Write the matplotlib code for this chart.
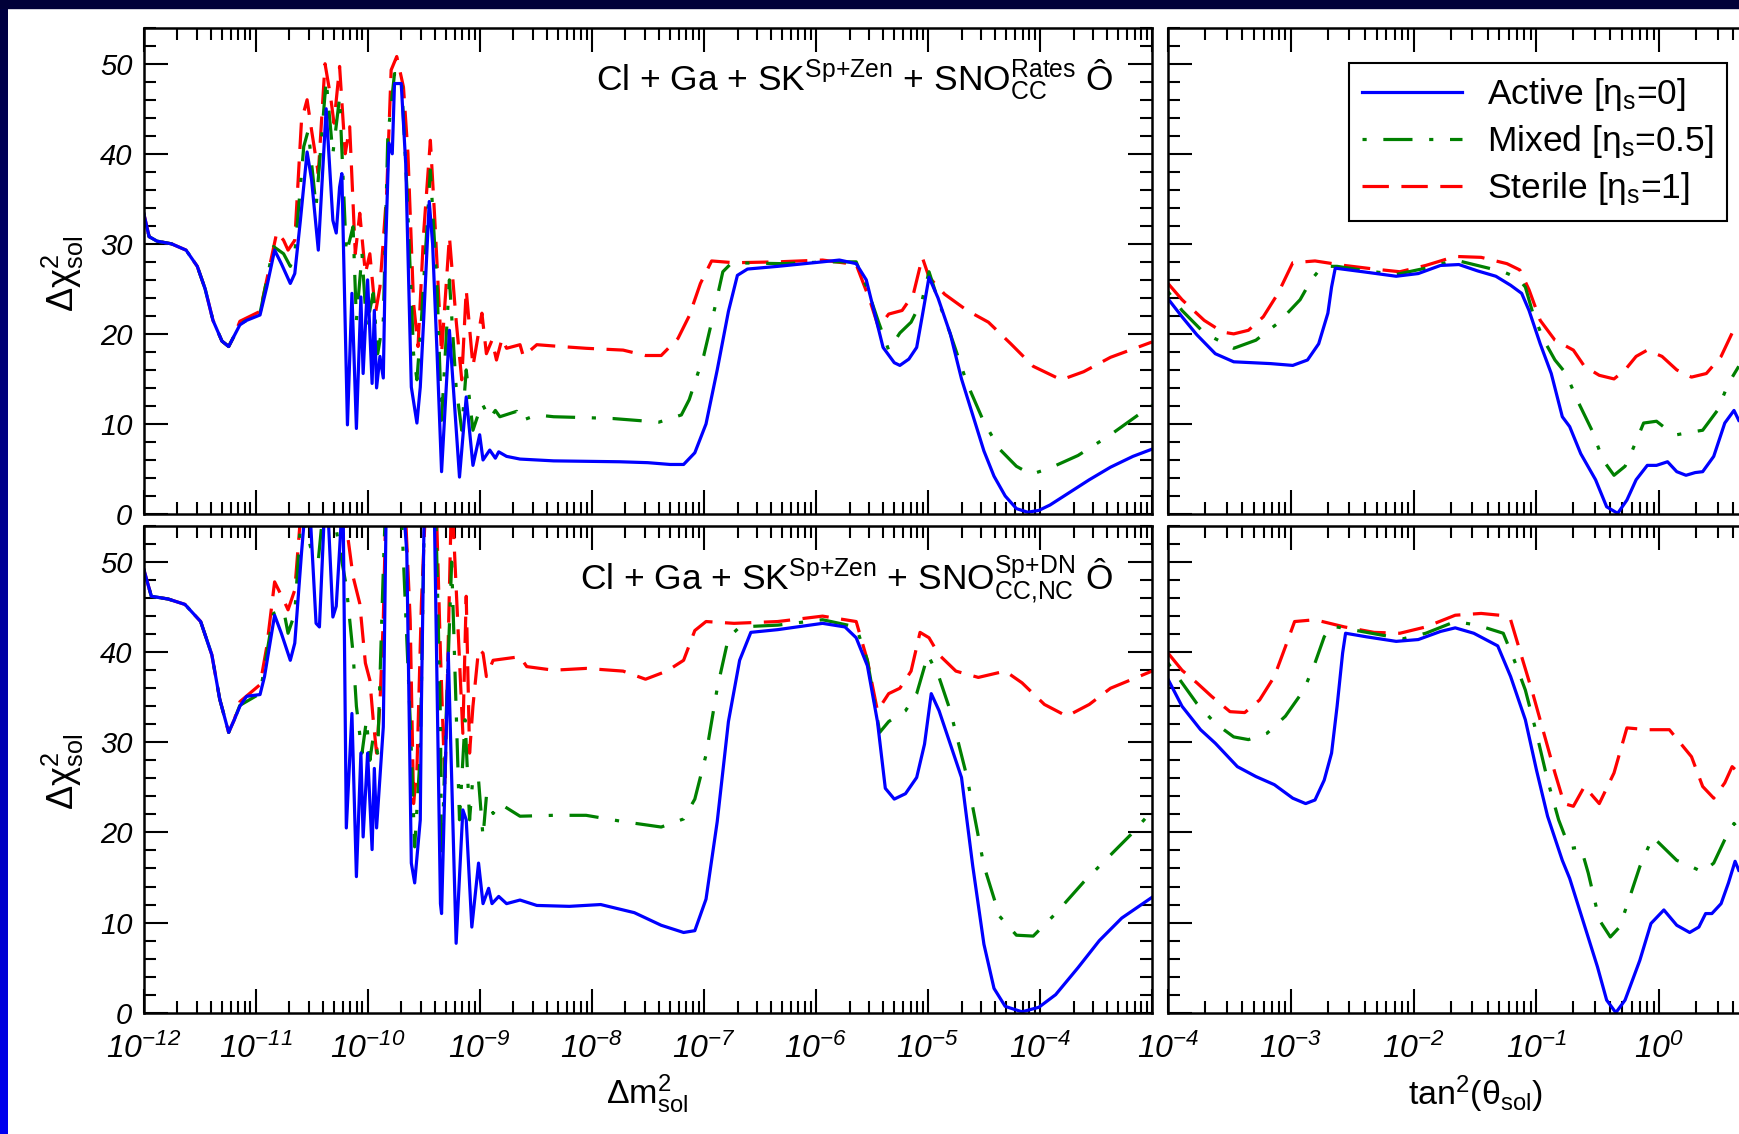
import numpy as np
import matplotlib.pyplot as plt
from matplotlib.colors import LinearSegmentedColormap
from matplotlib.patches import Rectangle

plt.rcParams['font.family'] = ['Liberation Sans', 'DejaVu Sans']
plt.rcParams['mathtext.fontset'] = 'custom'
plt.rcParams['mathtext.rm'] = 'Liberation Sans'
plt.rcParams['mathtext.it'] = 'Liberation Sans:italic'
plt.rcParams['mathtext.sf'] = 'Liberation Sans:italic'
plt.rcParams['mathtext.default'] = 'regular'
plt.rcParams['lines.scale_dashes'] = False

# ---- data: x values are log10 of the axis quantity ----
# top row: Cl + Ga + SK + SNO rates, vs dm2
top_dm_active_x = [-12.00, -11.95, -11.88, -11.75, -11.62, -11.52, -11.45, -11.38, -11.30, -11.24, -11.19, -11.14,
                   -11.08, -10.96, -10.90, -10.83, -10.77, -10.69, -10.65, -10.60, -10.54, -10.50, -10.44, -10.37,
                   -10.31, -10.28, -10.25, -10.23, -10.18, -10.14, -10.10, -10.06, -10.04, -10.00, -9.96, -9.94,
                   -9.92, -9.89, -9.86, -9.84, -9.81, -9.78, -9.76, -9.70, -9.66, -9.61, -9.56, -9.53, -9.50, -9.45,
                   -9.42, -9.38, -9.34, -9.27, -9.18, -9.12, -9.06, -9.00, -8.97, -8.91, -8.86, -8.83, -8.76, -8.64,
                   -8.34, -7.75, -7.50, -7.30, -7.18, -7.08, -6.98, -6.88, -6.78, -6.70, -6.61, -6.34, -5.94, -5.79,
                   -5.64, -5.55, -5.47, -5.40, -5.30, -5.25, -5.17, -5.10, -5.05, -4.99, -4.91, -4.80, -4.70, -4.60,
                   -4.50, -4.41, -4.31, -4.21, -4.11, -4.01, -3.91, -3.76, -3.56, -3.37, -3.17, -3.00]
top_dm_active_y = [33.5, 30.8, 30.3, 30.0, 29.3, 27.5, 25.0, 21.5, 19.2, 18.6, 19.8, 21.0,
                   21.5, 22.1, 25.2, 29.3, 27.8, 25.6, 26.7, 32.6, 40.2, 37.1, 29.3, 45.0,
                   32.6, 31.2, 36.3, 37.8, 9.9, 24.5, 9.5, 24.1, 15.6, 26.0, 14.5, 22.6,
                   14.0, 17.5, 15.1, 29.3, 41.2, 40.0, 47.8, 47.8, 38.9, 14.1, 10.1, 14.1, 21.5, 34.7,
                   30.0, 17.8, 4.7, 20.4, 4.1, 13.0, 5.4, 8.8, 6.0, 7.1, 6.2, 6.9, 6.4, 6.1,
                   5.9, 5.8, 5.7, 5.5, 5.5, 6.8, 10.0, 16.0, 22.5, 26.5, 27.2, 27.5, 28.0, 28.2,
                   27.8, 26.0, 22.0, 18.5, 16.8, 16.5, 17.2, 18.5, 22.0, 26.3, 24.0, 20.0, 15.0, 11.0,
                   7.0, 4.2, 2.0, 0.6, 0.2, 0.4, 1.0, 2.2, 3.8, 5.2, 6.4, 7.2]
top_dm_mixed_x = [-12.00, -11.95, -11.88, -11.75, -11.62, -11.52, -11.45, -11.38, -11.30, -11.24, -11.19, -11.14,
                  -10.96, -10.84, -10.75, -10.69, -10.65, -10.57, -10.53, -10.46, -10.37, -10.31, -10.25, -10.19,
                  -10.13, -10.10, -10.05, -10.01, -9.95, -9.91, -9.86, -9.82, -9.76, -9.70, -9.65, -9.59, -9.56,
                  -9.52, -9.44, -9.38, -9.34, -9.27, -9.21, -9.16, -9.12, -9.06, -8.98, -8.91, -8.86, -8.82, -8.67,
                  -8.64, -8.49, -8.34, -8.05, -7.81, -7.40, -7.20, -7.13, -7.00, -6.93, -6.83, -6.75, -6.30, -5.90,
                  -5.64, -5.54, -5.44, -5.35, -5.25, -5.15, -5.05, -4.99, -4.91, -4.80, -4.65, -4.50, -4.36, -4.21,
                  -4.08, -3.91, -3.66, -3.37, -3.00]
top_dm_mixed_y = [33.5, 30.8, 30.3, 30.0, 29.3, 27.5, 25.0, 21.5, 19.2, 18.6, 19.8, 21.1,
                  22.3, 29.7, 28.9, 27.5, 28.9, 40.8, 42.6, 34.1, 48.2, 40.0, 46.3, 28.9,
                  31.9, 21.5, 28.9, 20.8, 24.5, 17.8, 21.5, 41.9, 48.9, 48.9, 36.3, 17.8, 14.9,
                  21.5, 38.2, 25.2, 10.4, 26.0, 14.1, 9.3, 16.0, 9.3, 12.3, 10.6, 11.5, 10.8, 11.4,
                  10.3, 11.0, 10.8, 10.7, 10.6, 10.2, 11.0, 12.7, 17.6, 21.3, 26.9, 27.9, 27.8, 28.0,
                  28.0, 25.0, 21.3, 18.2, 20.1, 21.3, 23.8, 26.9, 23.8, 20.0, 14.5, 10.2, 7.2, 5.3,
                  4.4, 5.1, 6.5, 8.8, 12.1]
top_dm_sterile_x = [-12.00, -11.95, -11.88, -11.75, -11.62, -11.52, -11.45, -11.38, -11.30, -11.24, -11.19, -11.14,
                    -10.96, -10.90, -10.81, -10.75, -10.71, -10.65, -10.59, -10.54, -10.50, -10.44, -10.38, -10.33,
                    -10.30, -10.25, -10.20, -10.16, -10.11, -10.07, -10.02, -9.98, -9.93, -9.89, -9.83, -9.79,
                    -9.74, -9.68, -9.64, -9.59, -9.55, -9.50, -9.44, -9.40, -9.34, -9.27, -9.21, -9.16, -9.12,
                    -9.06, -8.98, -8.94, -8.89, -8.85, -8.80, -8.76, -8.64, -8.61, -8.49, -8.28, -8.05, -7.72,
                    -7.52, -7.38, -7.23, -7.13, -7.03, -6.93, -6.73, -6.34, -5.94, -5.64, -5.52, -5.44, -5.35,
                    -5.23, -5.13, -5.05, -4.99, -4.85, -4.65, -4.46, -4.26, -4.06, -3.81, -3.61, -3.37, -3.00]
top_dm_sterile_y = [33.5, 30.8, 30.3, 30.0, 29.3, 27.5, 25.0, 21.5, 19.2, 18.6, 19.8, 21.4,
                    22.5, 26.0, 31.3, 30.4, 29.3, 30.4, 43.7, 46.0, 42.6, 37.8, 50.0, 46.3,
                    43.4, 49.7, 40.0, 43.0, 28.9, 33.4, 26.7, 28.9, 22.3, 25.2, 35.6, 49.3,
                    50.8, 47.4, 40.0, 23.4, 18.6, 31.2, 41.5, 32.6, 17.8, 30.8, 21.5, 14.9, 24.9,
                    16.4, 22.3, 17.8, 19.3, 17.1, 19.5, 18.4, 18.8, 17.5, 18.8, 18.6, 18.4, 18.2,
                    17.6, 17.6, 19.5, 22.0, 25.6, 28.1, 27.9, 28.0, 28.2, 27.7, 23.8, 20.7, 22.2,
                    22.6, 24.4, 28.5, 26.3, 24.4, 22.6, 21.3, 18.9, 16.4, 14.9, 15.8, 17.4, 19.1]

# bottom row: Cl + Ga + SK + SNO CC,NC spectrum + day/night, vs dm2
bot_dm_active_x = [-12.00, -11.93, -11.78, -11.63, -11.49, -11.39, -11.32, -11.24, -11.19, -11.14, -11.08, -10.96,
                   -10.92, -10.83, -10.77, -10.69, -10.65, -10.59, -10.55, -10.51, -10.46, -10.43, -10.37, -10.31,
                   -10.28, -10.25, -10.22, -10.19, -10.14, -10.10, -10.06, -10.04, -10.00, -9.96, -9.94, -9.92,
                   -9.86, -9.83, -9.73, -9.65, -9.61, -9.58, -9.53, -9.52, -9.49, -9.41, -9.35, -9.34, -9.28,
                   -9.21, -9.15, -9.12, -9.07, -9.01, -8.97, -8.92, -8.89, -8.83, -8.76, -8.64, -8.49, -8.20,
                   -7.92, -7.62, -7.38, -7.18, -7.08, -6.98, -6.88, -6.78, -6.68, -6.58, -6.34, -5.94, -5.74,
                   -5.64, -5.54, -5.45, -5.38, -5.30, -5.20, -5.10, -5.03, -4.97, -4.90, -4.80, -4.70, -4.60,
                   -4.50, -4.41, -4.31, -4.16, -4.01, -3.86, -3.66, -3.47, -3.27, -3.00]
bot_dm_active_y = [49.3, 46.2, 45.9, 45.3, 43.4, 39.7, 34.8, 31.1, 32.5, 34.0, 35.1, 35.3,
                   37.3, 44.1, 42.1, 39.1, 41.0, 51.0, 57.0, 54.7, 43.2, 42.8, 60.0, 43.9,
                   45.1, 51.4, 58.0, 20.5, 33.2, 15.1, 28.8, 19.5, 28.8, 18.1, 27.1, 20.5,
                   31.7, 60.0, 65.0, 51.0, 16.6, 14.4, 21.4, 34.0, 60.0, 60.0, 12.1, 11.0, 39.9,
                   7.7, 22.5, 21.4, 9.5, 16.6, 12.1, 13.8, 12.1, 12.9, 12.1, 12.5, 11.9, 11.8,
                   12.0, 11.1, 9.7, 8.9, 9.1, 12.6, 21.2, 32.3, 39.1, 42.2, 42.5, 43.2, 42.8,
                   41.6, 38.5, 32.3, 24.9, 23.7, 24.3, 26.1, 29.8, 35.4, 33.5, 29.8, 26.1, 16.3,
                   7.6, 2.7, 0.7, 0.1, 0.6, 2.0, 5.0, 8.0, 10.5, 12.8]
bot_dm_mixed_x = [-12.00, -11.93, -11.78, -11.63, -11.49, -11.39, -11.32, -11.24, -11.19, -11.14, -10.96, -10.84,
                  -10.75, -10.71, -10.65, -10.59, -10.51, -10.44, -10.38, -10.30, -10.19, -10.13, -10.10, -10.05,
                  -10.01, -9.98, -9.95, -9.91, -9.86, -9.83, -9.72, -9.62, -9.58, -9.53, -9.49, -9.40, -9.35,
                  -9.34, -9.30, -9.25, -9.18, -9.13, -9.09, -9.06, -9.01, -8.97, -8.94, -8.88, -8.82, -8.64,
                  -8.34, -8.05, -7.72, -7.38, -7.18, -7.08, -6.98, -6.88, -6.78, -6.68, -6.34, -5.94, -5.64,
                  -5.54, -5.43, -5.35, -5.20, -5.10, -5.00, -4.90, -4.80, -4.65, -4.50, -4.36, -4.21, -4.06,
                  -3.86, -3.61, -3.37, -3.17, -3.00]
bot_dm_mixed_y = [49.3, 46.2, 45.9, 45.3, 43.4, 39.7, 34.8, 31.1, 32.5, 34.1, 35.4, 44.3,
                  44.7, 42.1, 44.3, 56.0, 51.7, 50.2, 58.0, 55.0, 47.3, 39.9, 34.0, 28.8,
                  32.5, 28.0, 30.6, 28.8, 49.1, 60.0, 62.0, 32.5, 18.4, 28.8, 58.0, 60.0, 32.5,
                  16.2, 32.5, 50.0, 21.4, 32.5, 21.4, 26.2, 25.8, 19.5, 24.0, 22.1, 23.2, 21.8,
                  21.9, 21.9, 21.2, 20.6, 21.5, 23.7, 28.6, 36.0, 41.6, 42.8, 43.0, 43.6, 42.8,
                  39.1, 31.1, 32.3, 33.5, 35.4, 39.7, 37.2, 33.5, 26.1, 16.3, 10.7, 8.6, 8.5,
                  11.0, 14.5, 17.5, 20.0, 22.4]
bot_dm_sterile_x = [-12.00, -11.93, -11.78, -11.63, -11.49, -11.39, -11.32, -11.24, -11.19, -11.14, -10.96, -10.90,
                    -10.83, -10.75, -10.71, -10.65, -10.58, -10.50, -10.45, -10.37, -10.30, -10.25, -10.20, -10.13,
                    -10.07, -10.02, -9.98, -9.95, -9.92, -9.89, -9.86, -9.83, -9.70, -9.62, -9.59, -9.56, -9.52,
                    -9.47, -9.40, -9.35, -9.31, -9.25, -9.15, -9.12, -9.09, -9.06, -9.01, -8.97, -8.94, -8.88,
                    -8.64, -8.58, -8.34, -8.05, -7.72, -7.52, -7.33, -7.18, -7.08, -6.98, -6.73, -6.34, -5.94,
                    -5.64, -5.54, -5.45, -5.35, -5.25, -5.15, -5.07, -4.99, -4.90, -4.75, -4.55, -4.31, -4.16,
                    -3.96, -3.76, -3.56, -3.37, -3.00]
bot_dm_sterile_y = [49.3, 46.2, 45.9, 45.3, 43.4, 39.7, 34.8, 31.1, 32.5, 34.5, 36.4, 40.6,
                    47.8, 45.8, 44.7, 46.9, 58.0, 62.0, 56.0, 64.0, 57.0, 63.0, 55.0, 48.4,
                    45.4, 38.8, 36.9, 32.5, 28.8, 34.3, 43.6, 60.0, 66.0, 43.6, 23.2, 26.9, 45.4,
                    60.0, 62.0, 39.9, 25.0, 58.0, 31.0, 46.2, 28.8, 34.0, 40.3, 39.9, 37.3, 39.1,
                    39.5, 38.4, 38.0, 38.2, 37.9, 37.0, 37.9, 39.1, 42.4, 43.4, 43.2, 43.4, 44.0,
                    43.4, 39.1, 33.5, 35.4, 36.0, 37.9, 42.2, 41.6, 39.7, 37.9, 37.2, 37.9, 36.6,
                    34.2, 32.9, 34.2, 36.0, 37.9]

# right column: vs tan^2(theta)
top_th_active_x = [-4.00, -3.886, -3.765, -3.615, -3.465, -3.314, -3.164, -2.984, -2.864, -2.773, -2.698, -2.668,
                   -2.638, -2.413, -2.142, -1.962, -1.781, -1.631, -1.480, -1.330, -1.210, -1.120, -1.060, -0.969,
                   -0.879, -0.789, -0.729, -0.639, -0.518, -0.428, -0.338, -0.263, -0.188, -0.097, -0.022, 0.068,
                   0.143, 0.218, 0.293, 0.354, 0.444, 0.534, 0.609, 0.648]
top_th_active_y = [23.9, 21.9, 19.9, 17.8, 16.9, 16.8, 16.7, 16.5, 17.1, 18.9, 22.3, 25.2,
                   27.3, 26.9, 26.4, 26.7, 27.6, 27.7, 27.0, 26.4, 25.4, 24.5, 22.6, 18.9,
                   15.6, 10.8, 9.7, 6.7, 3.8, 0.8, 0.07, 1.55, 3.8, 5.4, 5.4, 5.8,
                   4.7, 4.3, 4.6, 4.7, 6.4, 10.1, 11.5, 10.4]
top_th_mixed_x = [-4.00, -3.886, -3.705, -3.465, -3.284, -3.104, -2.924, -2.833, -2.743, -2.623, -2.382, -2.142,
                  -1.901, -1.661, -1.480, -1.270, -1.150, -1.090, -1.029, -0.939, -0.849, -0.759, -0.669, -0.548,
                  -0.458, -0.368, -0.278, -0.218, -0.127, -0.022, 0.053, 0.143, 0.263, 0.354, 0.474, 0.564, 0.648]
top_th_mixed_y = [24.7, 22.6, 20.1, 18.4, 19.3, 21.2, 23.8, 26.0, 27.5, 27.5, 27.0, 26.6,
                  27.3, 28.2, 27.6, 26.9, 26.2, 25.2, 22.3, 19.3, 17.1, 15.6, 12.7, 9.3,
                  6.0, 4.3, 5.3, 7.1, 10.1, 10.3, 9.5, 8.8, 9.1, 9.3, 11.5, 14.5, 16.4]
top_th_sterile_x = [-4.00, -3.886, -3.705, -3.555, -3.465, -3.345, -3.224, -3.104, -2.984, -2.803, -2.563, -2.322,
                    -2.112, -1.901, -1.661, -1.450, -1.240, -1.135, -1.060, -0.969, -0.849, -0.699, -0.609, -0.488,
                    -0.368, -0.278, -0.188, -0.097, 0.023, 0.143, 0.263, 0.384, 0.504, 0.594, 0.648]
top_th_sterile_y = [25.6, 23.8, 21.5, 20.2, 20.0, 20.4, 21.9, 24.5, 27.9, 28.1, 27.6, 27.2,
                    26.9, 27.6, 28.6, 28.5, 27.8, 27.1, 24.9, 21.5, 19.3, 18.2, 16.4, 15.4,
                    15.0, 16.0, 17.5, 18.2, 17.5, 16.0, 15.2, 15.6, 17.5, 20.1, 21.2]

bot_th_active_x = [-4.00, -3.886, -3.735, -3.615, -3.435, -3.284, -3.134, -2.984, -2.879, -2.803, -2.728, -2.668,
                   -2.623, -2.578, -2.554, -2.382, -2.142, -1.962, -1.781, -1.661, -1.510, -1.315, -1.210, -1.090,
                   -0.999, -0.909, -0.789, -0.729, -0.639, -0.503, -0.428, -0.353, -0.278, -0.158, -0.067, 0.038,
                   0.143, 0.248, 0.323, 0.378, 0.429, 0.504, 0.564, 0.618, 0.648]
bot_th_active_y = [37.0, 34.0, 31.4, 29.9, 27.3, 26.2, 25.3, 23.8, 23.2, 23.6, 25.8, 28.8,
                   34.0, 39.9, 42.1, 41.7, 41.2, 41.4, 42.3, 42.7, 42.1, 40.7, 37.3, 32.5,
                   26.9, 21.8, 16.9, 14.9, 11.0, 5.1, 1.4, 0.0, 1.4, 5.8, 9.9, 11.4,
                   9.7, 8.9, 9.5, 11.0, 11.0, 12.1, 14.4, 16.8, 15.8]
bot_th_mixed_x = [-4.00, -3.886, -3.765, -3.615, -3.465, -3.345, -3.194, -3.044, -2.894, -2.803, -2.728, -2.668,
                  -2.503, -2.262, -2.082, -1.901, -1.661, -1.480, -1.270, -1.180, -1.090, -0.999, -0.909, -0.819,
                  -0.729, -0.639, -0.578, -0.488, -0.398, -0.323, -0.248, -0.158, -0.052, 0.053, 0.143, 0.233,
                  0.354, 0.444, 0.534, 0.609, 0.648]
bot_th_mixed_y = [38.8, 36.6, 34.3, 32.1, 30.6, 30.3, 31.0, 32.9, 35.8, 38.8, 41.7, 42.9,
                  42.5, 41.9, 41.5, 42.1, 43.4, 43.0, 42.1, 39.1, 35.8, 31.0, 25.8, 21.4,
                  18.2, 18.4, 15.5, 10.3, 8.4, 9.5, 12.5, 16.2, 19.5, 18.1, 16.9, 16.4,
                  15.6, 16.6, 19.2, 21.0, 20.3]
bot_th_sterile_x = [-4.00, -3.886, -3.765, -3.645, -3.495, -3.375, -3.254, -3.134, -3.044, -2.969, -2.803, -2.563,
                    -2.322, -2.112, -1.901, -1.661, -1.450, -1.300, -1.210, -1.120, -1.029, -0.939, -0.849, -0.774,
                    -0.699, -0.609, -0.488, -0.368, -0.263, -0.097, 0.083, 0.263, 0.354, 0.444, 0.534, 0.594, 0.648]
bot_th_sterile_y = [39.9, 38.0, 36.6, 35.1, 33.4, 33.3, 34.7, 37.3, 40.6, 43.4, 43.6, 42.8,
                    42.2, 42.1, 42.8, 44.1, 44.3, 44.1, 43.6, 39.5, 35.4, 31.0, 26.6, 23.2,
                    22.9, 25.1, 23.2, 26.6, 31.6, 31.4, 31.4, 28.4, 25.1, 23.8, 25.5, 27.3, 26.6]

legend_labels = ['Active [η$_{s}$=0]', 'Mixed [η$_{s}$=0.5]', 'Sterile [η$_{s}$=1]']
top_title = 'Cl + Ga + SK$^{Sp{+}Zen}$ + SNO$^{Rates}_{CC}$ Ô'
bot_title = 'Cl + Ga + SK$^{Sp{+}Zen}$ + SNO$^{Sp{+}DN}_{CC{,}NC}$ Ô'
y_ticks = [0, 10, 20, 30, 40, 50]

styles = {
    'active': dict(color='#0000ff', lw=2.3, ls='-'),
    'mixed': dict(color='#008000', lw=2.3, ls=(0, (3, 12, 21, 12))),
    'sterile': dict(color='#ff0000', lw=2.3, ls=(0, (19, 9))),
}

W, H = 1739, 1134
fig = plt.figure(figsize=(W / 100, H / 100), dpi=100)
fig.patch.set_facecolor('white')

# dark frame: top band and left gradient strip
fig.patches.append(Rectangle((0, 1 - 8 / H), 1, 8 / H, transform=fig.transFigure,
                             color='#000038', zorder=10))
strip = fig.add_axes([0, 0, 8 / W, 1])
grad = np.linspace(0, 1, 256).reshape(-1, 1)
strip.imshow(grad, aspect='auto', origin='upper', extent=[0, 1, 0, 1],
             cmap=LinearSegmentedColormap.from_list('edge', ['#000040', '#0000f0']))
strip.axis('off')

left_x, left_w = 143.5 / W, 1008.5 / W
right_x, right_w = 1168 / W, 614 / W
top_y, top_h = 1 - 514 / H, 486.3 / H
bot_y, bot_h = 1 - 1012.7 / H, 486.7 / H

ax_tl = fig.add_axes([left_x, top_y, left_w, top_h])
ax_tr = fig.add_axes([right_x, top_y, right_w, top_h])
ax_bl = fig.add_axes([left_x, bot_y, left_w, bot_h])
ax_br = fig.add_axes([right_x, bot_y, right_w, bot_h])


def exp_label(k):
    return r'$\mathsf{10^{%d}}$' % k


def setup(ax, lo, hi, shown):
    ax.set_xscale('log')
    ax.set_xlim(10.0 ** lo, 10.0 ** hi)
    ax.set_ylim(0, 54)
    majors = 10.0 ** np.arange(lo, hi + 1)
    minors = [m * 10.0 ** k for k in range(lo, hi) for m in range(2, 10)]
    labels = [exp_label(k) if k in shown else '' for k in range(lo, hi + 1)]
    ax.set_xticks(majors, labels=labels, fontsize=23)
    ax.set_xticks(minors, minor=True)
    ax.set_yticks(y_ticks, labels=[str(v) for v in y_ticks], fontsize=21, fontstyle='italic')
    ax.set_yticks(np.arange(0, 55, 2), minor=True)
    ax.tick_params(which='both', direction='in', top=True, right=True, width=1.5)
    ax.tick_params(which='major', length=17)
    ax.tick_params(which='minor', length=8.5)
    ax.tick_params(axis='x', pad=15)
    ax.tick_params(axis='y', pad=8)
    for s in ax.spines.values():
        s.set_linewidth(1.8)


def draw(ax, curves):
    handles = []
    for name, xs, ys in curves:
        assert len(xs) == len(ys), name
        h, = ax.plot(10.0 ** np.array(xs), ys, **styles[name])
        handles.append(h)
    return handles


setup(ax_tl, -12, -3, range(-12, -3))
setup(ax_bl, -12, -3, range(-12, -3))
setup(ax_tr, -4, 1, range(-4, 1))
setup(ax_br, -4, 1, range(-4, 1))
for ax in (ax_tl, ax_tr):
    ax.tick_params(labelbottom=False)
for ax in (ax_tr, ax_br):
    ax.tick_params(labelleft=False)

draw(ax_tl, [('sterile', top_dm_sterile_x, top_dm_sterile_y),
             ('mixed', top_dm_mixed_x, top_dm_mixed_y),
             ('active', top_dm_active_x, top_dm_active_y)])
draw(ax_bl, [('sterile', bot_dm_sterile_x, bot_dm_sterile_y),
             ('mixed', bot_dm_mixed_x, bot_dm_mixed_y),
             ('active', bot_dm_active_x, bot_dm_active_y)])
hs = draw(ax_tr, [('sterile', top_th_sterile_x, top_th_sterile_y),
                  ('mixed', top_th_mixed_x, top_th_mixed_y),
                  ('active', top_th_active_x, top_th_active_y)])
draw(ax_br, [('sterile', bot_th_sterile_x, bot_th_sterile_y),
             ('mixed', bot_th_mixed_x, bot_th_mixed_y),
             ('active', bot_th_active_x, bot_th_active_y)])

ax_tl.text(0.962, 0.870, top_title, transform=ax_tl.transAxes, ha='right', va='baseline', fontsize=25.5)
ax_bl.text(0.962, 0.8685, bot_title, transform=ax_bl.transAxes, ha='right', va='baseline', fontsize=25.5)

leg = fig.legend(hs[::-1], legend_labels, loc='upper left',
                 bbox_to_anchor=(1349 / W, 1 - 63 / H), bbox_transform=fig.transFigure,
                 fontsize=25.5, frameon=True, fancybox=False, edgecolor='black', framealpha=1,
                 borderaxespad=0, borderpad=0.38, handlelength=2.8, handletextpad=0.72,
                 labelspacing=0.28)
leg.get_frame().set_linewidth(1.5)

fig.text(63 / W, 1 - 274 / H, 'Δχ$^{2}_{sol}$', rotation=90, ha='center', va='center', fontsize=26)
fig.text(63 / W, 1 - 772 / H, 'Δχ$^{2}_{sol}$', rotation=90, ha='center', va='center', fontsize=26)
fig.text(647 / W, 1 - 1094 / H, 'Δm$^{2}_{sol}$', ha='center', va='center', fontsize=24.5)
fig.text(1475 / W, 1 - 1094 / H, 'tan$^{2}$(θ$_{sol}$)', ha='center', va='center', fontsize=24.5)

fig.savefig('out.png', dpi=100)
